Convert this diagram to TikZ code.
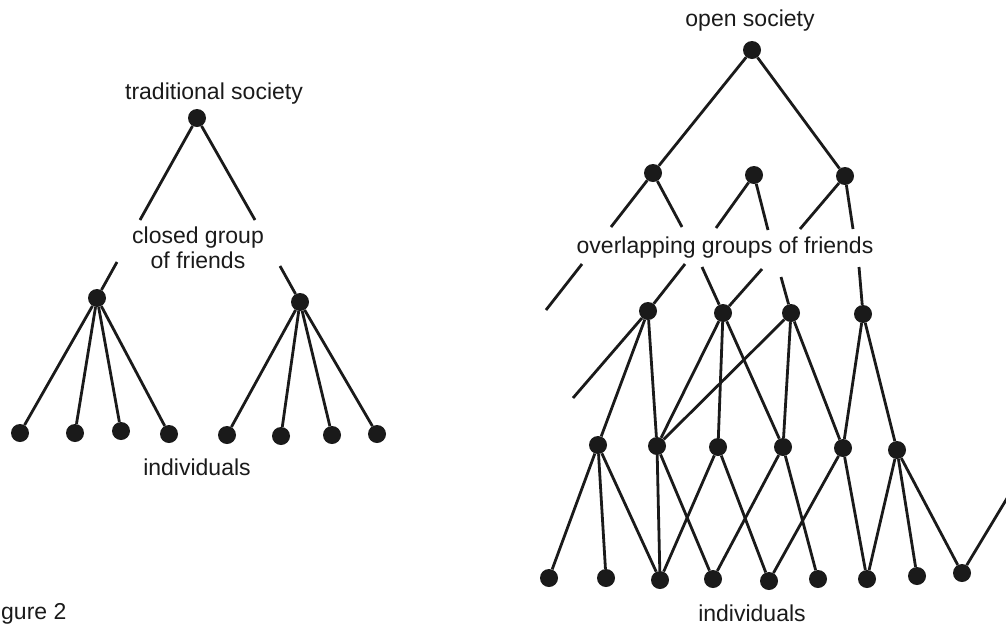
\documentclass[tikz,border=0pt]{standalone}
\usepackage{fontspec}
\setmainfont{Liberation Sans}
\definecolor{ink}{HTML}{1A1A1A}
\begin{document}
\begin{tikzpicture}[x=1pt,y=-1pt,
  dot/.style={circle,fill=ink,draw=none,inner sep=0pt,minimum size=18pt},
  edge/.style={line width=2.8pt,draw=ink},
  lbl/.style={font=\fontsize{23}{27}\selectfont,text=ink,inner sep=0pt,anchor=base}]
\useasboundingbox (0,0) rectangle (1006,625);
% ---------------- left tree ----------------
\node[lbl] (tslbl) at (214,99) {traditional society};
\node[lbl] (cg1) at (198,243) {closed group};
\node[lbl] (cg2) at (198,268) {of friends};
\node[lbl] (ind1) at (197,475) {individuals};
\node[dot] (tr) at (197,118) {};
\node[dot] (lg1) at (97,298) {};
\node[dot] (lg2) at (300,302) {};
\node[dot] (l1) at (20,433) {};
\node[dot] (l2) at (75,433) {};
\node[dot] (l3) at (121,431) {};
\node[dot] (l4) at (169,434) {};
\node[dot] (l5) at (227,435) {};
\node[dot] (l6) at (281,436) {};
\node[dot] (l7) at (332,435) {};
\node[dot] (l8) at (377,434) {};
\coordinate (ts1) at (140,220);
\coordinate (ts2) at (255,220);
\coordinate (gs1) at (117,262);
\coordinate (gs2) at (280,266);
\draw[edge] (tr) -- (ts1);
\draw[edge] (tr) -- (ts2);
\draw[edge] (lg1) -- (gs1);
\draw[edge] (lg2) -- (gs2);
\foreach \l in {l1,l2,l3,l4} \draw[edge] (lg1) -- (\l);
\foreach \l in {l5,l6,l7,l8} \draw[edge] (lg2) -- (\l);
% ---------------- right tree ----------------
\node[lbl] (oslbl) at (750,26) {open society};
\node[lbl] (oglbl) at (725,253) {overlapping groups of friends};
\node[lbl] (ind2) at (752,621) {individuals};
\node[lbl,anchor=base west] (fig) at (1,619) {gure 2};
\node[dot] (R) at (752,50) {};
\node[dot] (A) at (653,173) {};
\node[dot] (B) at (754,175) {};
\node[dot] (C) at (845,176) {};
\node[dot] (D) at (648,311) {};
\node[dot] (E) at (723,313) {};
\node[dot] (F) at (791,313) {};
\node[dot] (G) at (863,314) {};
\node[dot] (H) at (598,445) {};
\node[dot] (I) at (657,446) {};
\node[dot] (J) at (718,447) {};
\node[dot] (K) at (783,447) {};
\node[dot] (L) at (843,448) {};
\node[dot] (M) at (897,450) {};
\node[dot] (p1) at (549,578) {};
\node[dot] (p2) at (606,578) {};
\node[dot] (p3) at (660,580) {};
\node[dot] (p4) at (713,579) {};
\node[dot] (p5) at (769,581) {};
\node[dot] (p6) at (818,579) {};
\node[dot] (p7) at (867,579) {};
\node[dot] (p8) at (917,576) {};
\node[dot] (p9) at (962,573) {};
\coordinate (a1) at (611,227);
\coordinate (a2) at (682,227);
\coordinate (b1) at (716,228);
\coordinate (b2) at (768,230);
\coordinate (c1) at (800,229);
\coordinate (c2) at (853,229);
\coordinate (u1) at (582,264);
\coordinate (u2) at (546,310);
\coordinate (d1) at (685,264);
\coordinate (e1) at (702,267);
\coordinate (e2) at (762,269);
\coordinate (f1) at (781,277);
\coordinate (g1) at (859,267);
\coordinate (dd) at (573,398);
\coordinate (ex) at (1012,490);
\draw[edge] (R) -- (A);
\draw[edge] (R) -- (C);
\draw[edge] (A) -- (a1);
\draw[edge] (A) -- (a2);
\draw[edge] (B) -- (b1);
\draw[edge] (B) -- (b2);
\draw[edge] (C) -- (c1);
\draw[edge] (C) -- (c2);
\draw[edge] (u1) -- (u2);
\draw[edge] (d1) -- (D);
\draw[edge] (e1) -- (E);
\draw[edge] (e2) -- (E);
\draw[edge] (f1) -- (F);
\draw[edge] (g1) -- (G);
\draw[edge] (D) -- (dd);
\draw[edge] (D) -- (H);
\draw[edge] (D) -- (I);
\draw[edge] (E) -- (I);
\draw[edge] (E) -- (J);
\draw[edge] (E) -- (K);
\draw[edge] (F) -- (I);
\draw[edge] (F) -- (K);
\draw[edge] (F) -- (L);
\draw[edge] (G) -- (L);
\draw[edge] (G) -- (M);
\draw[edge] (H) -- (p1);
\draw[edge] (H) -- (p2);
\draw[edge] (H) -- (p3);
\draw[edge] (I) -- (p3);
\draw[edge] (I) -- (p4);
\draw[edge] (J) -- (p3);
\draw[edge] (J) -- (p5);
\draw[edge] (K) -- (p4);
\draw[edge] (K) -- (p6);
\draw[edge] (L) -- (p5);
\draw[edge] (L) -- (p7);
\draw[edge] (M) -- (p7);
\draw[edge] (M) -- (p8);
\draw[edge] (M) -- (p9);
\draw[edge] (p9) -- (ex);
\end{tikzpicture}
\end{document}
